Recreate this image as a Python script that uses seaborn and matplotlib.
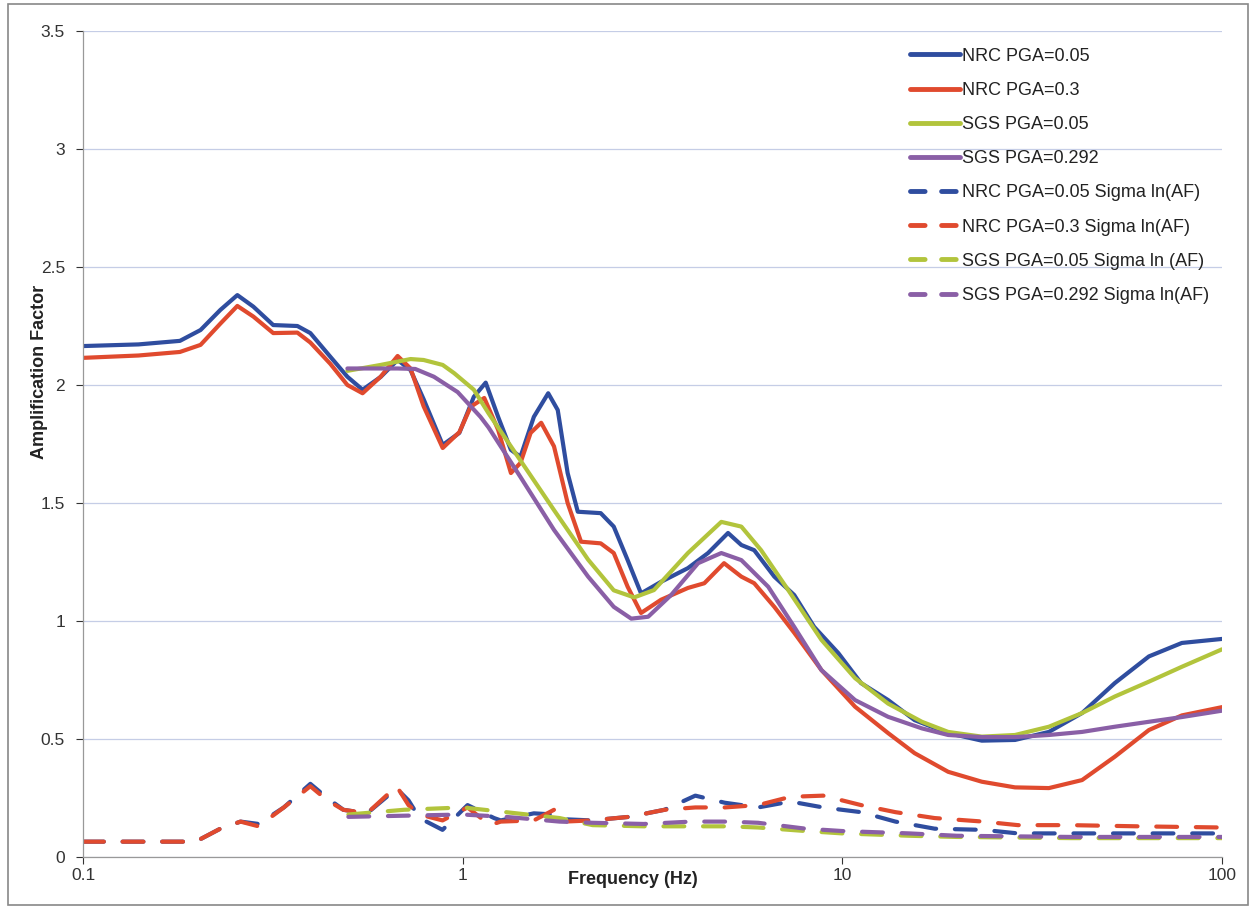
import numpy as np
import pandas as pd
import matplotlib
matplotlib.use("Agg")
import matplotlib.pyplot as plt
import seaborn as sns
from matplotlib.patches import Rectangle

sns.set_theme(style="white")
plt.rcParams['font.family'] = ['Liberation Sans', 'DejaVu Sans']

# ---------------- data ----------------
nrc005_f = [0.1, 0.14, 0.18, 0.204, 0.23, 0.255, 0.281, 0.317, 0.367, 0.397, 0.448, 0.497,
            0.545, 0.608, 0.674, 0.729, 0.789, 0.886, 0.98, 1.07, 1.15, 1.24, 1.34, 1.42, 1.54,
            1.68, 1.78, 1.89, 2.01, 2.31, 2.50, 2.72, 2.95, 3.33, 3.92, 4.43, 5.0, 5.42, 5.86,
            6.62, 7.47, 8.43, 9.76, 11.2, 13.2, 15.5, 19.0, 23.3, 28.5, 35.0, 42.8, 52.2, 64.2,
            78.4, 100]
nrc005_v = [2.165, 2.172, 2.187, 2.233, 2.318, 2.381, 2.332, 2.254, 2.25, 2.22, 2.12, 2.035,
            1.98, 2.034, 2.106, 2.063, 1.94, 1.746, 1.797, 1.95, 2.01, 1.865, 1.725, 1.696, 1.865,
            1.965, 1.894, 1.627, 1.463, 1.457, 1.40, 1.258, 1.117, 1.166, 1.224, 1.288, 1.373,
            1.322, 1.30, 1.188, 1.11, 0.975, 0.864, 0.737, 0.665, 0.58, 0.525, 0.493, 0.496,
            0.53, 0.61, 0.737, 0.85, 0.907, 0.924]

nrc03_f = [0.1, 0.14, 0.18, 0.204, 0.23, 0.255, 0.281, 0.317, 0.367, 0.397, 0.448, 0.497,
           0.545, 0.608, 0.674, 0.729, 0.789, 0.886, 0.98, 1.05, 1.14, 1.24, 1.34, 1.42, 1.51,
           1.61, 1.74, 1.89, 2.05, 2.31, 2.50, 2.72, 2.95, 3.33, 3.92, 4.33, 4.88, 5.42, 5.86,
           6.62, 7.47, 8.81, 10.8, 13.2, 15.5, 19.0, 23.3, 28.5, 35.0, 42.8, 52.2, 64.2, 78.4,
           100]
nrc03_v = [2.115, 2.125, 2.14, 2.17, 2.26, 2.335, 2.29, 2.22, 2.222, 2.18, 2.09, 2.0, 1.965,
           2.035, 2.123, 2.07, 1.91, 1.733, 1.80, 1.908, 1.945, 1.81, 1.627, 1.67, 1.797, 1.84,
           1.74, 1.50, 1.336, 1.329, 1.288, 1.145, 1.034, 1.09, 1.14, 1.16, 1.245, 1.188, 1.16,
           1.06, 0.95, 0.792, 0.637, 0.525, 0.44, 0.361, 0.319, 0.295, 0.292, 0.326, 0.425,
           0.538, 0.60, 0.635]

sgs005_f = [0.497, 0.608, 0.729, 0.789, 0.886, 0.95, 1.07, 1.17, 1.42, 1.74, 2.14, 2.50, 2.83,
            3.19, 3.92, 4.80, 5.42, 6.11, 7.21, 8.81, 10.8, 13.2, 16.2, 19.0, 23.3, 28.5, 35.0,
            42.8, 52.2, 64.2, 78.4, 100]
sgs005_v = [2.06, 2.085, 2.11, 2.106, 2.085, 2.05, 1.98, 1.88, 1.68, 1.47, 1.26, 1.13, 1.10,
            1.131, 1.288, 1.42, 1.40, 1.30, 1.13, 0.92, 0.758, 0.65, 0.573, 0.53, 0.51, 0.517,
            0.552, 0.61, 0.68, 0.743, 0.806, 0.88]

sgs0292_f = [0.497, 0.674, 0.75, 0.84, 0.97, 1.114, 1.17, 1.42, 1.74, 2.14, 2.50, 2.78, 3.08,
             3.54, 4.17, 4.80, 5.42, 6.38, 7.47, 8.81, 10.8, 13.2, 16.2, 19.0, 23.3, 28.5, 35.0,
             42.8, 52.2, 64.2, 78.4, 100]
sgs0292_v = [2.07, 2.07, 2.068, 2.035, 1.97, 1.865, 1.82, 1.61, 1.386, 1.188, 1.06, 1.01,
             1.018, 1.11, 1.245, 1.288, 1.258, 1.145, 0.975, 0.792, 0.665, 0.594, 0.545, 0.517,
             0.508, 0.508, 0.517, 0.53, 0.552, 0.573, 0.593, 0.62]

sig_nrc005_f = [0.1, 0.15, 0.198, 0.23, 0.26, 0.29, 0.338, 0.397, 0.44, 0.485, 0.56, 0.67, 0.72,
                0.77, 0.885, 1.03, 1.21, 1.26, 1.54, 1.74, 1.85, 2.18, 2.74, 3.4, 4.1, 4.9, 6.0,
                7.3, 8.9, 11.2, 13.8, 17.5, 23.5, 29, 40, 60, 100]
sig_nrc005_v = [0.065, 0.065, 0.065, 0.12, 0.15, 0.14, 0.21, 0.31, 0.25, 0.20, 0.185, 0.29,
                0.24, 0.165, 0.115, 0.22, 0.165, 0.155, 0.185, 0.18, 0.16, 0.155, 0.17, 0.2,
                0.26, 0.23, 0.21, 0.235, 0.21, 0.19, 0.15, 0.12, 0.115, 0.1, 0.1, 0.1, 0.1]

sig_nrc03_f = [0.1, 0.15, 0.198, 0.23, 0.26, 0.29, 0.338, 0.397, 0.44, 0.485, 0.56, 0.67, 0.72,
               0.77, 0.885, 1.03, 1.18, 1.26, 1.54, 1.74, 1.85, 2.18, 2.74, 3.4, 4.1, 4.9, 6.0,
               7.3, 8.9, 11.2, 13.8, 17.5, 23.5, 29, 40, 60, 100]
sig_nrc03_v = [0.065, 0.065, 0.065, 0.12, 0.15, 0.13, 0.21, 0.30, 0.24, 0.20, 0.185, 0.30,
               0.22, 0.18, 0.155, 0.21, 0.135, 0.15, 0.155, 0.2, 0.15, 0.155, 0.17, 0.2,
               0.21, 0.21, 0.22, 0.255, 0.26, 0.22, 0.19, 0.165, 0.15, 0.135, 0.135, 0.13, 0.125]

sig_sgs005_f = [0.5, 0.7, 1.0, 1.3, 1.8, 2.2, 3.0, 4.0, 5.0, 6.0, 8.0, 10, 15, 20, 40, 100]
sig_sgs005_v = [0.18, 0.2, 0.21, 0.19, 0.165, 0.135, 0.13, 0.13, 0.13, 0.125, 0.11, 0.1, 0.09,
                0.085, 0.08, 0.08]

sig_sgs0292_f = [0.5, 0.7, 1.0, 1.3, 1.8, 2.2, 3.0, 4.0, 5.0, 6.0, 8.0, 10, 15, 20, 40, 100]
sig_sgs0292_v = [0.17, 0.175, 0.18, 0.17, 0.15, 0.145, 0.14, 0.15, 0.15, 0.145, 0.12, 0.11,
                 0.1, 0.09, 0.085, 0.085]

labels = ["NRC PGA=0.05", "NRC PGA=0.3", "SGS PGA=0.05", "SGS PGA=0.292",
          "NRC PGA=0.05 Sigma ln(AF)", "NRC PGA=0.3 Sigma ln(AF)",
          "SGS PGA=0.05 Sigma ln (AF)", "SGS PGA=0.292 Sigma ln(AF)"]

y_ticks = [0, 0.5, 1, 1.5, 2, 2.5, 3, 3.5]
y_ticklabels = ["0", "0.5", "1", "1.5", "2", "2.5", "3", "3.5"]
x_ticks = [0.1, 1, 10, 100]
x_ticklabels = ["0.1", "1", "10", "100"]

# ---------------- styling ----------------
BLUE = "#2f4d9f"
RED = "#e04a2e"
GREEN = "#b2c43c"
PURPLE = "#8a5fa6"

series = [
    (nrc005_f, nrc005_v, BLUE, "-"),
    (nrc03_f, nrc03_v, RED, "-"),
    (sgs005_f, sgs005_v, GREEN, "-"),
    (sgs0292_f, sgs0292_v, PURPLE, "-"),
    (sig_nrc005_f, sig_nrc005_v, BLUE, "--"),
    (sig_nrc03_f, sig_nrc03_v, RED, "--"),
    (sig_sgs005_f, sig_sgs005_v, GREEN, "--"),
    (sig_sgs0292_f, sig_sgs0292_v, PURPLE, "--"),
]

W, H = 1252, 909
fig = plt.figure(figsize=(W / 100, H / 100), dpi=100)
ax = fig.add_axes([83 / W, (H - 857) / H, (1222 - 83) / W, (857 - 31) / H])

for (f, v, c, ls), lab in zip(series, labels):
    df = pd.DataFrame({"f": f, "v": v})
    sns.lineplot(data=df, x="f", y="v", ax=ax, color=c, lw=3.0, label=lab,
                 sort=False, estimator=None)
    l = ax.lines[-1]
    l.set_solid_capstyle("round")
    l.set_solid_joinstyle("round")
    if ls == "--":
        l.set_dashes([5, 4.5])
        l.set_dash_capstyle("round")

ax.set_xscale("log")
ax.set_xlim(0.1, 100)
ax.set_ylim(0, 3.5)
ax.set_xticks(x_ticks)
ax.set_xticklabels(x_ticklabels)
ax.xaxis.set_minor_locator(matplotlib.ticker.NullLocator())
ax.set_yticks(y_ticks)
ax.set_yticklabels(y_ticklabels)
ax.tick_params(axis="both", labelsize=12.5, colors="#333333", length=5, width=0.8,
               direction="out", bottom=True, left=True)
ax.tick_params(axis="y", pad=8)
ax.tick_params(axis="x", pad=3)
ax.grid(axis="y", color="#c5cde6", lw=0.9)
ax.grid(axis="x", visible=False)
for s in ["top", "right"]:
    ax.spines[s].set_visible(False)
for s in ["left", "bottom"]:
    ax.spines[s].set_color("#999999")
    ax.spines[s].set_linewidth(0.9)

ax.set_xlabel("")
ax.set_ylabel("")
fig.text(633 / W, 1 - 880 / H, "Frequency (Hz)", fontsize=13, fontweight="bold",
         color="#222222", ha="center", va="center")
fig.text(40 / W, 1 - 372 / H, "Amplification Factor", fontsize=13, fontweight="bold",
         color="#222222", ha="center", va="center", rotation=90)

leg = ax.legend(loc="upper right", bbox_to_anchor=(1.0, 0.995), frameon=False, fontsize=13,
                handlelength=2.8, handletextpad=0.1, labelspacing=0.95, borderaxespad=0.3)
for i, h in enumerate(leg.get_lines()):
    h.set_linewidth(3.5)
    if i >= 4:
        h.set_dashes([3.0, 3.4])
        h.set_dash_capstyle("round")
for t in leg.get_texts():
    t.set_color("#222222")

# outer chart border
fig.patches.append(Rectangle((8 / W, 4 / H), (1248 - 8) / W, (905 - 4) / H,
                             transform=fig.transFigure, fill=False, edgecolor="#888888", lw=1.2))

fig.savefig("out.png", dpi=100)
